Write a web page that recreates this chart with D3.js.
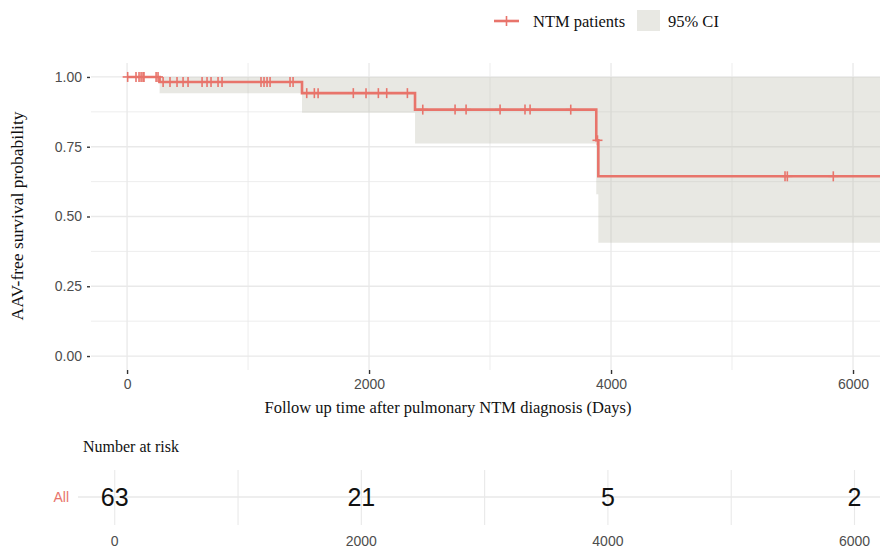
<!DOCTYPE html>
<html>
<head>
<meta charset="utf-8">
<script src="https://cdn.jsdelivr.net/npm/d3@7"></script>
<style>
  body { margin: 0; background: #fff; }
  svg { display: block; }
</style>
</head>
<body>
<svg id="chart" width="880" height="549"></svg>
<script>
// ---------------- data ----------------
const stepTimes   = [0, 269, 1446, 2380, 3878, 3895];
const survival    = [1.000, 0.982, 0.942, 0.883, 0.773, 0.644];
const ciLower     = [1.000, 0.942, 0.872, 0.762, 0.580, 0.406];
const ciUpper     = [1.000, 1.000, 1.000, 1.000, 1.000, 1.000];
const lastTime    = 6300;
const censorTimes = [5, 74, 99, 116, 132, 140, 240, 256,
  298, 355, 413, 463, 504, 620, 661, 694, 752, 785, 1107, 1132, 1157, 1182, 1347, 1372,
  1485, 1548, 1579, 1870, 1975, 2077, 2146, 2317,
  2444, 2711, 2802, 3083, 3289, 3331, 3667,
  3888,
  5438, 5457, 5837];
const xTicks      = [0, 2000, 4000, 6000];
const xMinor      = [1000, 3000, 5000];
const yTicks      = [0, 0.25, 0.5, 0.75, 1];
const yMinor      = [0.125, 0.375, 0.625, 0.875];
const riskTimes   = [0, 2000, 4000, 6000];
const riskCounts  = [63, 21, 5, 2];
const tableGrid   = [0, 1000, 2000, 3000, 4000, 5000, 6000];
const groupName   = "All";

// ---------------- style ----------------
const curveColor = "#e8746b";
const gridColor  = "#e9e9e9";
const serif = "'Liberation Serif', 'Times New Roman', serif";
const sans  = "'Liberation Sans', Arial, Helvetica, sans-serif";

const svg = d3.select("#chart");

// scales
const x = d3.scaleLinear().domain([-298, 6223]).range([91, 880]);
const y = d3.scaleLinear().domain([-0.05, 1.05]).range([370, 63]);
const xt = d3.scaleLinear().domain([-298, 6223]).range([78, 882]);

const panel = { left: 91, right: 880, top: 63, bottom: 370 };

svg.append("clipPath").attr("id", "clip")
  .append("rect").attr("x", panel.left).attr("y", panel.top)
  .attr("width", panel.right - panel.left).attr("height", panel.bottom - panel.top);

// grid
const grid = svg.append("g");
grid.selectAll(".ymin").data(yMinor).join("line")
  .attr("x1", panel.left).attr("x2", panel.right)
  .attr("y1", d => y(d)).attr("y2", d => y(d))
  .attr("stroke", gridColor).attr("stroke-width", 0.8);
grid.selectAll(".xmin").data(xMinor).join("line")
  .attr("y1", panel.top).attr("y2", panel.bottom)
  .attr("x1", d => x(d)).attr("x2", d => x(d))
  .attr("stroke", gridColor).attr("stroke-width", 0.8);
grid.selectAll(".ymaj").data(yTicks).join("line")
  .attr("x1", panel.left).attr("x2", panel.right)
  .attr("y1", d => y(d)).attr("y2", d => y(d))
  .attr("stroke", gridColor).attr("stroke-width", 1.3);
grid.selectAll(".xmaj").data(xTicks).join("line")
  .attr("y1", panel.top).attr("y2", panel.bottom)
  .attr("x1", d => x(d)).attr("x2", d => x(d))
  .attr("stroke", gridColor).attr("stroke-width", 1.3);

// step data
const pts = stepTimes.map((t, i) => ({ t, s: survival[i], lo: ciLower[i], hi: ciUpper[i] }));
pts.push({ t: lastTime, s: survival[survival.length - 1], lo: ciLower[ciLower.length - 1], hi: ciUpper[ciUpper.length - 1] });

const plotG = svg.append("g").attr("clip-path", "url(#clip)");

// CI band
const area = d3.area().curve(d3.curveStepAfter)
  .x(d => x(d.t)).y0(d => y(d.lo)).y1(d => y(d.hi));
plotG.append("path").datum(pts).attr("d", area)
  .attr("fill", "#b8b8a8").attr("fill-opacity", 0.32);

// curve
const line = d3.line().curve(d3.curveStepAfter).x(d => x(d.t)).y(d => y(d.s));
plotG.append("path").datum(pts).attr("d", line)
  .attr("fill", "none").attr("stroke", curveColor).attr("stroke-width", 2.6);

// censor marks
function survAt(t) {
  const i = d3.bisectRight(stepTimes, t) - 1;
  return survival[Math.max(0, i)];
}
const cg = plotG.append("g").attr("stroke", curveColor).attr("stroke-width", 1.6);
censorTimes.forEach(t => {
  const cx = x(t), cy = y(survAt(t));
  cg.append("line").attr("x1", cx).attr("x2", cx).attr("y1", cy - 5).attr("y2", cy + 5);
  cg.append("line").attr("x1", cx - 5).attr("x2", cx + 5).attr("y1", cy).attr("y2", cy);
});

// axes
const yAxis = svg.append("g").attr("transform", `translate(${panel.left - 1},0)`)
  .call(d3.axisLeft(y).tickValues(yTicks).tickFormat(d3.format(".2f")).tickSize(3).tickPadding(5));
const xAxis = svg.append("g").attr("transform", `translate(0,${panel.bottom})`)
  .call(d3.axisBottom(x).tickValues(xTicks).tickFormat(d3.format("d")).tickSize(4).tickPadding(5));
[yAxis, xAxis].forEach(a => {
  a.select(".domain").remove();
  a.selectAll(".tick line").attr("stroke", "#333").attr("stroke-width", 1.4);
  a.selectAll(".tick text").attr("fill", "#4d4d4d").style("font-family", sans).style("font-size", "14px");
});

// axis titles
svg.append("text").attr("x", 448).attr("y", 413).attr("text-anchor", "middle")
  .style("font-family", serif).style("font-size", "16.5px").attr("fill", "#111")
  .text("Follow up time after pulmonary NTM diagnosis (Days)");
svg.append("text").attr("transform", "translate(23,216) rotate(-90)").attr("text-anchor", "middle")
  .style("font-family", serif).style("font-size", "17.5px").attr("fill", "#111")
  .text("AAV-free survival probability");

// legend
const lg = svg.append("g");
lg.append("line").attr("x1", 494).attr("x2", 519).attr("y1", 21).attr("y2", 21)
  .attr("stroke", curveColor).attr("stroke-width", 2.6);
lg.append("line").attr("x1", 506.5).attr("x2", 506.5).attr("y1", 16).attr("y2", 26)
  .attr("stroke", curveColor).attr("stroke-width", 1.6);
lg.append("text").attr("x", 533).attr("y", 27)
  .style("font-family", serif).style("font-size", "16.5px").attr("fill", "#111").text("NTM patients");
lg.append("rect").attr("x", 637).attr("y", 10).attr("width", 23).attr("height", 21)
  .attr("fill", "#b8b8a8").attr("fill-opacity", 0.32);
lg.append("text").attr("x", 668).attr("y", 27)
  .style("font-family", serif).style("font-size", "16.5px").attr("fill", "#111").text("95% CI");

// risk table
svg.append("text").attr("x", 83).attr("y", 452)
  .style("font-family", serif).style("font-size", "16px").attr("fill", "#111").text("Number at risk");
const tg = svg.append("g");
const rowY = 497;
tg.selectAll(".vg").data(tableGrid).join("line")
  .attr("x1", d => xt(d)).attr("x2", d => xt(d)).attr("y1", 470).attr("y2", 525)
  .attr("stroke", gridColor).attr("stroke-width", 1.1);
tg.append("line").attr("x1", 78).attr("x2", 880).attr("y1", rowY).attr("y2", rowY)
  .attr("stroke", gridColor).attr("stroke-width", 1.6);
tg.append("text").attr("x", 69).attr("y", rowY).attr("dy", "0.35em").attr("text-anchor", "end")
  .style("font-family", sans).style("font-size", "14px").attr("fill", curveColor).text(groupName);
tg.selectAll(".cnt").data(riskTimes).join("text")
  .attr("x", d => xt(d)).attr("y", rowY).attr("dy", "0.36em").attr("text-anchor", "middle")
  .style("font-family", sans).style("font-size", "25px").attr("fill", "#111")
  .text((d, i) => riskCounts[i]);
tg.selectAll(".tl").data(riskTimes).join("text")
  .attr("x", d => xt(d)).attr("y", 546).attr("text-anchor", "middle")
  .style("font-family", sans).style("font-size", "14px").attr("fill", "#4d4d4d")
  .text(d => d3.format("d")(d));
</script>
</body>
</html>
